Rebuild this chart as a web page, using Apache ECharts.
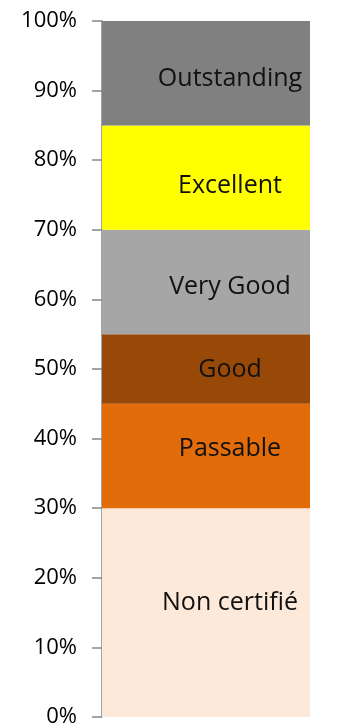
<!DOCTYPE html>
<html><head><meta charset="utf-8">
<script src="https://cdn.jsdelivr.net/npm/echarts@6/dist/echarts.min.js"></script>
<style>html,body{margin:0;padding:0;background:#fff}#c{width:338px;height:728px}</style>
</head><body><div id="c"></div>
<script>
var categories = ['Rating'];
var seriesNames = ['Non certifié', 'Passable', 'Good', 'Very Good', 'Excellent', 'Outstanding'];
var seriesValues = [30, 15, 10, 15, 15, 15];
var seriesColors = ['#FDE9D9', '#E36C0A', '#984807', '#A6A6A6', '#FFFF00', '#808080'];
var labelOffsetsY = [-10, -7, 1, 5, 8, 6];

var chart = echarts.init(document.getElementById('c'));
var series = seriesNames.map(function (n, i) {
  return {
    name: n, type: 'bar', stack: 'all', data: [seriesValues[i]],
    itemStyle: { color: seriesColors[i] },
    barCategoryGap: '0%',
    label: { show: true, position: 'inside', formatter: '{a}', color: '#111',
      fontFamily: 'Open Sans', fontSize: 25, offset: [24, labelOffsetsY[i]] }
  };
});
chart.setOption({
  animation: false,
  grid: { left: 102, right: 28, top: 21, bottom: 10 },
  xAxis: { type: 'category', data: categories, show: false },
  yAxis: {
    type: 'value', min: 0, max: 100, interval: 10,
    splitLine: { show: false },
    axisLine: { show: true, lineStyle: { color: '#868686', width: 1.5 } },
    axisTick: { show: true, length: 10, lineStyle: { color: '#868686', width: 1.5 } },
    axisLabel: { margin: 25, color: '#000', fontFamily: 'Open Sans', fontSize: 22,
      formatter: function (v) { return v + '%'; } }
  },
  series: series
});
</script></body></html>
